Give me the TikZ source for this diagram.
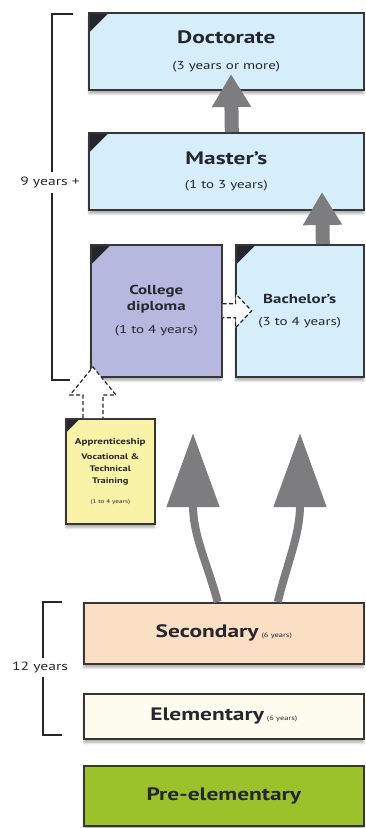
\documentclass[tikz,border=0pt]{standalone}
\usepackage{fontspec}
\setmainfont{PT Sans}[FakeStretch=1.3]
\usetikzlibrary{arrows.meta,calc,shadows.blur}

\definecolor{ink}{HTML}{26262F}
\definecolor{boxline}{HTML}{363636}
\definecolor{skyfill}{HTML}{D5EEF9}
\definecolor{lilacfill}{HTML}{B7B8DF}
\definecolor{lemonfill}{HTML}{F8F3A6}
\definecolor{peachfill}{HTML}{FBDFC5}
\definecolor{creamfill}{HTML}{FEFCEE}
\definecolor{limefill}{HTML}{9BC12B}
\definecolor{arrowgray}{HTML}{7D7D80}

\newcommand\subfont{\fontsize{11.5}{14}\selectfont\mdseries}
\newcommand\tinyyears{\fontsize{5.5}{6}\selectfont\mdseries}

\tikzset{
  level/.style={draw=boxline, line width=1.6pt, inner sep=2pt, align=center, text=ink,
    anchor=north west, font=\fontsize{18}{21}\selectfont\bfseries,
    blur shadow={shadow xshift=0pt, shadow yshift=-4pt, shadow blur steps=6, shadow opacity=30}},
  dogear/.style={path picture={\fill[ink] (path picture bounding box.north west)
    -- ++(#1,0pt) -- ++(-#1,-#1) -- cycle;}},
  dogear/.default=20pt,
  brk/.style={draw=ink, line width=1.4pt},
  brklabel/.style={fill=white, text=ink, inner sep=1pt, font=\fontsize{12}{14}\selectfont},
  uparrow/.style={draw=arrowgray, line width=#1},
  hollow/.style={draw=ink, fill=white, line width=1.2pt, dash pattern=on 4pt off 2.5pt},
}

\begin{document}
\begin{tikzpicture}[x=1pt, y=-1pt]
\useasboundingbox (0,0) rectangle (365,828);

% brackets
\draw[brk] (73,14) -- (52,14) -- (52,380) -- (70,380);
\node[brklabel, inner ysep=5pt] (nine) at (50,182) {9 years +};
\draw[brk] (62,602) -- (43,602) -- (43,735) -- (62,735);
\node[brklabel, inner ysep=4pt] (twelve) at (40,667) {12 years};

% boxes
\node[level, dogear, fill=skyfill, minimum width=275, minimum height=77] (doc) at (88,12)
  {Doctorate\\[5pt]{\subfont (3 years or more)}};
\node[level, dogear, fill=skyfill, minimum width=275, minimum height=77] (mas) at (88,132)
  {Master’s\\[3pt]{\subfont (1 to 3 years)}};
\node[level, dogear, fill=lilacfill, minimum width=131, minimum height=132,
  font=\fontsize{13}{16}\selectfont\bfseries] (coll) at (90,244)
  {College\\diploma\\[7pt]{\subfont (1 to 4 years)}};
\node[level, dogear, fill=skyfill, minimum width=128, minimum height=132,
  font=\fontsize{13}{16}\selectfont\bfseries] (bach) at (235,244)
  {Bachelor’s\\[6pt]{\subfont (3 to 4 years)}};
\node[level, dogear=14pt, fill=lemonfill, minimum width=89, minimum height=105, inner sep=0pt,
  font=\fontsize{8}{12}\selectfont\bfseries] (appr) at (65,418)
  {{\fontsize{8.5}{10}\selectfont Apprenticeship}\\[3pt]
   Vocational \&\\Technical\\Training\\[8pt]{\tinyyears (1 to 4 years)}};
\node[level, fill=peachfill, minimum width=280, minimum height=61] (sec) at (83,602)
  {Secondary\,{\fontsize{6.5}{8}\selectfont\mdseries (6 years)}};
\node[level, fill=creamfill, minimum width=280, minimum height=45] (elem) at (83,693)
  {Elementary\,{\fontsize{6.5}{8}\selectfont\mdseries (6 years)}};
\node[level, fill=limefill, minimum width=280, minimum height=60] (pre) at (83,765)
  {Pre-elementary};

% arrows
\coordinate (doctip) at (231,74);
\coordinate (mastip) at (322,192);
\coordinate (lefttip) at (193,433);
\coordinate (righttip) at (300,433);
\draw[uparrow=14pt, -{Triangle[width=37pt,length=33pt]}] ($(mas.north)+(5.5,0)$) -- (doctip);
\draw[uparrow=14pt, -{Triangle[width=37pt,length=33pt]}] ($(bach.north)+(23,0)$) -- (mastip);
\draw[uparrow=8pt, -{Triangle[width=51pt,length=74pt]}]
  ($(sec.north)+(-6,0)$) .. controls (206,560) and (193,535) .. (lefttip);
\draw[uparrow=8pt, -{Triangle[width=51pt,length=74pt]}]
  ($(sec.north)+(54,0)$) .. controls (288,560) and (300,535) .. (righttip);

% dashed routes
\draw[hollow] ($(coll.east)+(0,-7)$) -- ++(13,0) -- ++(0,-10) -- ($(coll.east)+(29,0)$)
  -- ($(coll.east)+(13,17)$) -- ++(0,-10) -- ($(coll.east)+(0,7)$);
\draw[hollow] ($(appr.north west)+(18,0)$) -- ++(0,-23) -- ++(-13,0) -- ($(appr.north west)+(28,-51)$)
  -- ($(appr.north west)+(51,-23)$) -- ++(-13,0) -- ($(appr.north west)+(38,0)$);
\end{tikzpicture}
\end{document}
